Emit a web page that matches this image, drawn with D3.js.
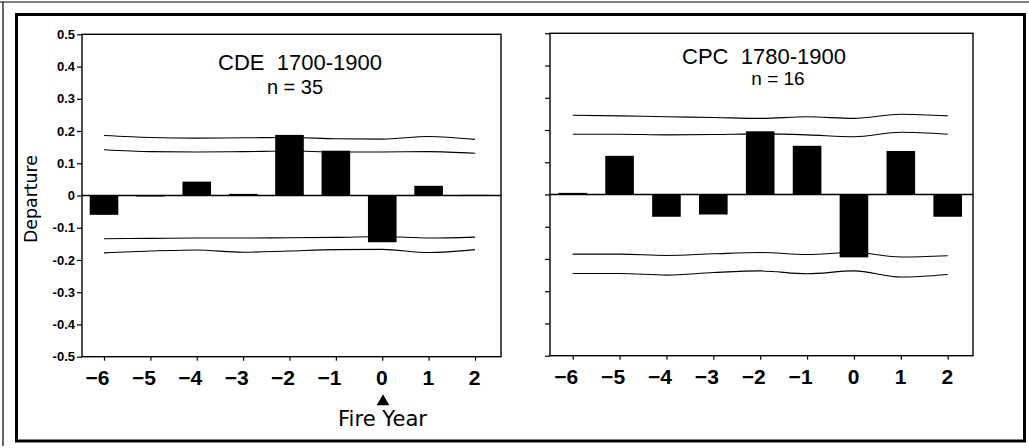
<!DOCTYPE html>
<html>
<head>
<meta charset="utf-8">
<script src="https://cdn.jsdelivr.net/npm/d3@7"></script>
<style>
body { margin: 0; background: #fff; }
</style>
</head>
<body>
<div id="chart"></div>
<script>
var width = 1029, height = 448;

// lag years relative to fire year
var years = [-6, -5, -4, -3, -2, -1, 0, 1, 2];
var yTicks = [0.5, 0.4, 0.3, 0.2, 0.1, 0, -0.1, -0.2, -0.3, -0.4, -0.5];

// CDE 1700-1900, n = 35
var cdeBars    = [-0.060, -0.003, 0.043, 0.005, 0.188, 0.139, -0.145, 0.030, 0.002];
var cdeOuterUp = [0.186, 0.180, 0.178, 0.179, 0.180, 0.176, 0.175, 0.183, 0.174];
var cdeInnerUp = [0.142, 0.136, 0.135, 0.136, 0.138, 0.135, 0.135, 0.136, 0.131];
var cdeInnerLo = [-0.134, -0.133, -0.132, -0.132, -0.131, -0.130, -0.127, -0.132, -0.129];
var cdeOuterLo = [-0.178, -0.172, -0.169, -0.176, -0.172, -0.168, -0.167, -0.177, -0.168];

// CPC 1780-1900, n = 16
var cpcBars    = [0.005, 0.120, -0.069, -0.062, 0.196, 0.151, -0.195, 0.135, -0.069];
var cpcOuterUp = [0.246, 0.244, 0.241, 0.239, 0.236, 0.241, 0.236, 0.249, 0.244];
var cpcInnerUp = [0.187, 0.187, 0.185, 0.186, 0.188, 0.185, 0.179, 0.193, 0.187];
var cpcInnerLo = [-0.185, -0.185, -0.189, -0.184, -0.180, -0.186, -0.180, -0.194, -0.190];
var cpcOuterLo = [-0.245, -0.245, -0.250, -0.242, -0.237, -0.246, -0.237, -0.256, -0.248];

var svg = d3.select('#chart')
    .append('svg')
    .attr('width', width)
    .attr('height', height);

// frame
svg.append('line').attr('x1', 0).attr('x2', width).attr('y1', 2).attr('y2', 2)
    .attr('stroke', '#000').attr('stroke-width', 1.2);
svg.append('line').attr('x1', 3).attr('x2', 3).attr('y1', 2).attr('y2', 446)
    .attr('stroke', '#000').attr('stroke-width', 1.2);
svg.append('rect').attr('x', 16.5).attr('y', 14.5).attr('width', 1008).attr('height', 426.5)
    .attr('fill', 'none').attr('stroke', '#000').attr('stroke-width', 3);

function panel(opt) {
    var x = d3.scaleLinear().domain([-6, 2]).range([opt.xA, opt.xB]);
    var y = d3.scaleLinear().domain([-0.5, 0.5]).range([opt.y1, opt.y0]);
    var g = svg.append('g');

    // plot box
    g.append('rect')
        .attr('x', opt.x0).attr('y', opt.y0)
        .attr('width', opt.x1 - opt.x0).attr('height', opt.y1 - opt.y0)
        .attr('fill', 'none').attr('stroke', '#000').attr('stroke-width', 1.4);

    // y axis
    var yAxis = g.append('g')
        .attr('transform', 'translate(' + opt.x0 + ',0)')
        .call(d3.axisLeft(y).tickValues(yTicks).tickSize(5).tickPadding(2)
            .tickFormat(function(d){ return opt.yLabels ? (d === 0 ? '0' : d.toFixed(1)) : ''; }));
    yAxis.select('.domain').remove();
    yAxis.selectAll('line').attr('stroke-width', 1.2);
    yAxis.selectAll('text')
        .style('font-family', 'Arial, "Liberation Sans", sans-serif')
        .style('font-size', '13px').style('font-weight', 'bold').attr('fill', '#000');

    // x axis
    var xAxis = g.append('g')
        .attr('transform', 'translate(0,' + opt.y1 + ')')
        .call(d3.axisBottom(x).tickValues(years).tickSize(4));
    xAxis.select('.domain').remove();
    xAxis.selectAll('line').attr('stroke-width', 1.2);
    xAxis.selectAll('text')
        .style('font-family', 'Arial, "Liberation Sans", sans-serif')
        .style('font-size', '21px').style('font-weight', 'bold').attr('fill', '#000')
        .attr('y', 28).attr('dy', 0)
        .attr('text-anchor', 'end').attr('dx', 5);

    // bars
    var bw = 28.6;
    g.selectAll('.bar')
        .data(opt.bars)
        .enter()
        .append('rect')
        .attr('class', 'bar')
        .attr('x', function(d, i){ return x(years[i]) - bw / 2; })
        .attr('y', function(d){ return y(Math.max(0, d)); })
        .attr('width', bw)
        .attr('height', function(d){ return Math.max(1, Math.abs(y(d) - y(0))); })
        .attr('fill', '#000');

    // zero line
    g.append('line')
        .attr('x1', opt.x0).attr('x2', opt.x1)
        .attr('y1', y(0)).attr('y2', y(0))
        .attr('stroke', '#000').attr('stroke-width', 1.3);

    // confidence bands
    var line = d3.line()
        .x(function(d, i){ return x(years[i]); })
        .y(function(d){ return y(d); })
        .curve(d3.curveMonotoneX);
    [opt.outerUp, opt.innerUp, opt.innerLo, opt.outerLo].forEach(function(s){
        g.append('path')
            .attr('d', line(s))
            .attr('fill', 'none')
            .attr('stroke', '#000')
            .attr('stroke-width', 1.1);
    });

    // titles
    g.append('text')
        .attr('x', opt.titleX).attr('y', opt.titleY)
        .attr('text-anchor', 'middle')
        .style('white-space', 'pre')
        .style('font-family', 'Arial, "Liberation Sans", sans-serif')
        .style('font-size', '22px')
        .text(opt.title);
    g.append('text')
        .attr('x', opt.nX).attr('y', opt.nY)
        .attr('text-anchor', 'middle')
        .style('font-family', 'Arial, "Liberation Sans", sans-serif')
        .style('font-size', opt.nSize)
        .text(opt.n);
}

panel({
    x0: 82, x1: 501, y0: 34.3, y1: 356.7, xA: 104, xB: 475,
    yLabels: true,
    bars: cdeBars, outerUp: cdeOuterUp, innerUp: cdeInnerUp, innerLo: cdeInnerLo, outerLo: cdeOuterLo,
    title: 'CDE  1700-1900', titleX: 300, titleY: 69.5,
    n: 'n = 35', nX: 295, nY: 94, nSize: '20px'
});

panel({
    x0: 550, x1: 973, y0: 33.3, y1: 355.7, xA: 572.7, xB: 947.7,
    yLabels: false,
    bars: cpcBars, outerUp: cpcOuterUp, innerUp: cpcInnerUp, innerLo: cpcInnerLo, outerLo: cpcOuterLo,
    title: 'CPC  1780-1900', titleX: 764, titleY: 64,
    n: 'n = 16', nX: 778, nY: 85, nSize: '19px'
});

// axis titles
svg.append('text')
    .attr('transform', 'translate(37,199) rotate(-90)')
    .attr('text-anchor', 'middle')
    .style('font-family', '"DejaVu Sans", sans-serif')
    .style('font-size', '17px')
    .attr('textLength', 88).attr('lengthAdjust', 'spacingAndGlyphs')
    .text('Departure');

svg.append('path')
    .attr('d', d3.symbol().type(d3.symbolTriangle).size(70)())
    .attr('transform', 'translate(383,401.5)')
    .attr('fill', '#000');

svg.append('text')
    .attr('x', 382.5).attr('y', 426)
    .attr('text-anchor', 'middle')
    .style('font-family', '"DejaVu Sans", sans-serif')
    .style('font-size', '21px')
    .attr('textLength', 89).attr('lengthAdjust', 'spacingAndGlyphs')
    .text('Fire Year');
</script>
</body>
</html>
